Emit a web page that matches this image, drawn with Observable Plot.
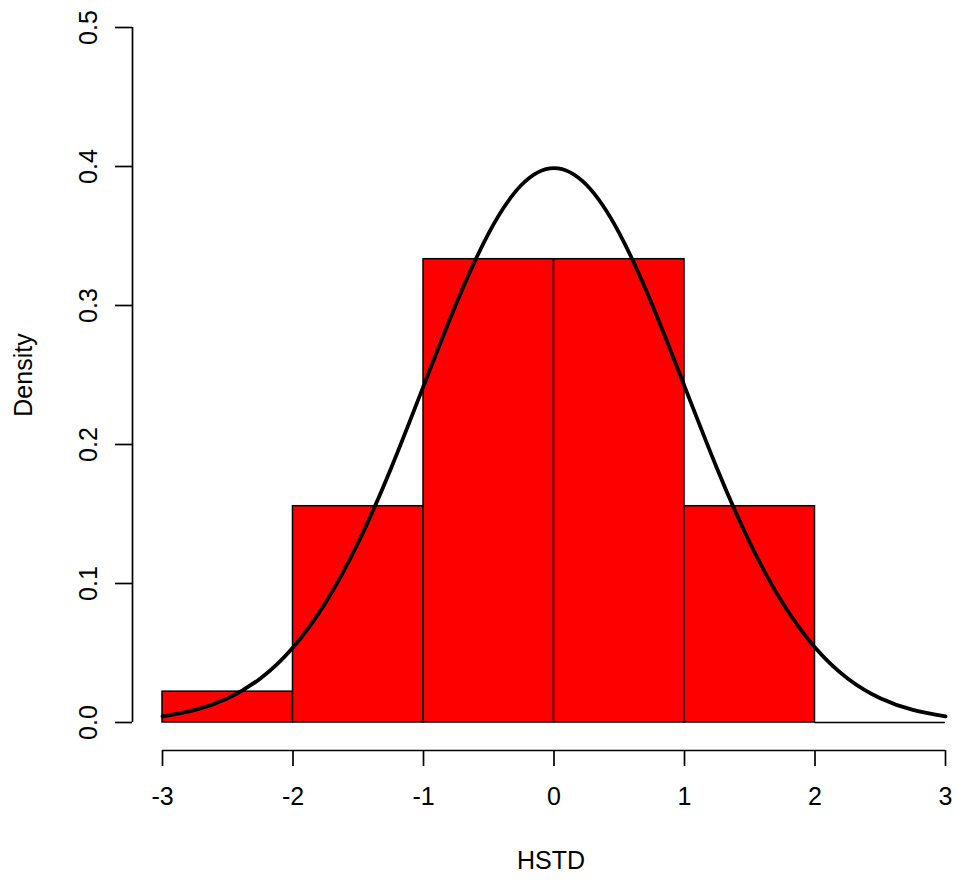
<!DOCTYPE html>
<html>
<head>
<meta charset="utf-8">
<script src="https://cdn.jsdelivr.net/npm/d3@7"></script>
<script src="https://cdn.jsdelivr.net/npm/@observablehq/plot@0.6"></script>
<style>
  html, body { margin: 0; padding: 0; background: #fff; }
</style>
</head>
<body>
<div id="chart"></div>
<script>
// Histogram bins (HSTD) and densities
const binStart = [-3, -2, -1, 0, 1, 2];
const binEnd   = [-2, -1, 0, 1, 2, 3];
const binDensity = [0.0222, 0.1556, 0.3333, 0.3333, 0.1556, 0];

// Density curve
const curveX = [-3, -2.75, -2.5, -2.25, -2, -1.75, -1.5, -1.25, -1, -0.75, -0.5, -0.25, 0,
                0.25, 0.5, 0.75, 1, 1.25, 1.5, 1.75, 2, 2.25, 2.5, 2.75, 3];
const curveY = [0.0044, 0.0091, 0.0175, 0.0317, 0.054, 0.0863, 0.1295, 0.1826, 0.242, 0.3011, 0.3521, 0.3867, 0.3989,
                0.3867, 0.3521, 0.3011, 0.242, 0.1826, 0.1295, 0.0863, 0.054, 0.0317, 0.0175, 0.0091, 0.0044];

// Tick values and labels
const xTicks = [-3, -2, -1, 0, 1, 2, 3];
const yTicks = [0, 0.1, 0.2, 0.3, 0.4, 0.5];
const yTickLabels = ["0.0", "0.1", "0.2", "0.3", "0.4", "0.5"];

const bins = binStart.map((s, i) => ({x1: s, x2: binEnd[i], density: binDensity[i]}));
const curve = curveX.map((x, i) => ({x, y: curveY[i]}));

const chart = Plot.plot({
  width: 956,
  height: 882,
  marginLeft: 162,
  marginRight: 11,
  marginTop: 27,
  marginBottom: 160,
  style: {fontFamily: "'Liberation Sans', Arial, sans-serif", fontSize: "25px", color: "black", background: "white"},
  x: {domain: [-3, 3]},
  y: {domain: [0, 0.5]},
  marks: [
    Plot.rectY(bins, {x1: "x1", x2: "x2", y1: 0, y2: "density", fill: "#ff0000", stroke: "black", strokeWidth: 1.5}),
    Plot.ruleY(bins.filter(d => d.density === 0), {x1: "x1", x2: "x2", y: 0, stroke: "black", strokeWidth: 1.5}),
    Plot.line(curve, {x: "x", y: "y", stroke: "black", strokeWidth: 3.8, curve: "natural"}),
    // y axis
    Plot.ruleX([-3], {y1: 0, y2: 0.5, dx: -30, stroke: "black", strokeWidth: 1.7}),
    Plot.axisY({ticks: yTicks, tickFormat: d => yTickLabels[yTicks.indexOf(d)], tickSize: 17, tickRotate: -90,
                dx: -30, tickPadding: 19, label: null, strokeWidth: 1.7}),
    // x axis
    Plot.ruleY([0], {dy: 28, stroke: "black", strokeWidth: 1.7}),
    Plot.axisX({ticks: xTicks, tickFormat: d => String(d), tickSize: 16, dy: 28,
                tickPadding: 21, label: null, strokeWidth: 1.7}),
    // axis titles
    Plot.text(["HSTD"], {frameAnchor: "bottom", lineAnchor: "bottom", textAnchor: "middle", dy: 146, dx: -3, fill: "black"}),
    Plot.text(["Density"], {frameAnchor: "left", textAnchor: "middle", lineAnchor: "middle", dx: -139, rotate: -90, fill: "black"})
  ]
});
document.getElementById("chart").appendChild(chart);
</script>
</body>
</html>
